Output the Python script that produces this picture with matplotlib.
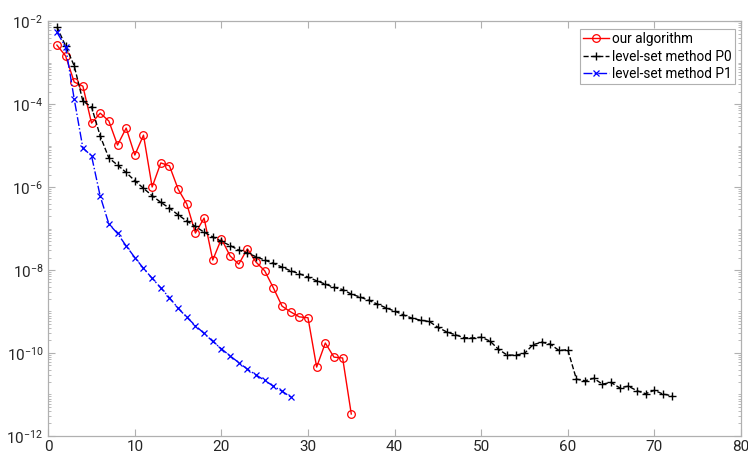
import numpy as np
import matplotlib
matplotlib.use("Agg")
import matplotlib.pyplot as plt
from matplotlib.ticker import LogLocator, FixedLocator, NullFormatter, FuncFormatter

plt.rcParams['font.family'] = ['Roboto', 'DejaVu Sans']
plt.rcParams['mathtext.fontset'] = 'custom'
plt.rcParams['mathtext.rm'] = 'Roboto'
plt.rcParams['mathtext.it'] = 'Roboto:italic'
plt.rcParams['mathtext.default'] = 'regular'

# ---- data (log10 of the error values) ----
ours_log = [-2.58, -2.84, -3.47, -3.57, -4.46, -4.22, -4.41, -4.99, -4.58, -5.23,
            -4.75, -6.00, -5.42, -5.49, -6.05, -6.41, -7.11, -6.75, -7.76, -7.25,
            -7.66, -7.86, -7.49, -7.81, -8.02, -8.43, -8.87, -9.01, -9.13, -9.15,
            -10.34, -9.76, -10.10, -10.12, -11.47]
p0_log = [-2.14, -2.60, -3.08, -3.93, -4.07, -4.77, -5.30, -5.47, -5.65, -5.85,
          -6.03, -6.21, -6.37, -6.51, -6.67, -6.82, -6.95, -7.09, -7.20, -7.31,
          -7.41, -7.52, -7.59, -7.68, -7.76, -7.84, -7.93, -8.02, -8.09, -8.17,
          -8.26, -8.34, -8.42, -8.47, -8.58, -8.65, -8.73, -8.82, -8.91, -8.99,
          -9.08, -9.16, -9.21, -9.24, -9.38, -9.49, -9.56, -9.63, -9.64, -9.62,
          -9.71, -9.91, -10.05, -10.05, -10.01, -9.80, -9.74, -9.79, -9.94, -9.92,
          -10.63, -10.67, -10.61, -10.75, -10.71, -10.84, -10.80, -10.91, -10.98, -10.90,
          -10.99, -11.03]
p1_log = [-2.27, -2.62, -3.88, -5.06, -5.25, -6.22, -6.89, -7.12, -7.42, -7.70,
          -7.96, -8.20, -8.43, -8.67, -8.92, -9.14, -9.34, -9.53, -9.72, -9.90,
          -10.07, -10.23, -10.39, -10.53, -10.66, -10.80, -10.92, -11.06]

ours = 10.0 ** np.array(ours_log)
p0 = 10.0 ** np.array(p0_log)
p1 = 10.0 ** np.array(p1_log)
it_ours = np.arange(1, len(ours) + 1)
it_p0 = np.arange(1, len(p0) + 1)
it_p1 = np.arange(1, len(p1) + 1)

labels = ['our algorithm', 'level-set method P0', 'level-set method P1']
xticks = [0, 10, 20, 30, 40, 50, 60, 70, 80]
ytick_exps = [-12, -10, -8, -6, -4, -2]

fig = plt.figure(figsize=(7.48, 4.55), dpi=100)
ax = fig.add_axes([0.0645, 0.0418, 0.926, 0.912])

ax.plot(it_ours, ours, '-', color='#ff0000', lw=1.0, marker='o', ms=5.5,
        mfc='none', mec='#ff0000', mew=0.9, label=labels[0])
ax.plot(it_p0, p0, '--', color='black', lw=1.0, marker='+', ms=6,
        mew=1.0, label=labels[1])
ax.plot(it_p1, p1, '-.', color='#0000ff', lw=1.0, marker='x', ms=4.5,
        mew=0.9, label=labels[2])

ax.set_yscale('log')
ax.set_xlim(0, 80)
ax.set_ylim(1e-12, 1e-2)
ax.set_xticks(xticks)
ax.yaxis.set_major_locator(FixedLocator([10.0 ** e for e in ytick_exps]))
ax.yaxis.set_major_formatter(FuncFormatter(lambda v, p: r'$10^{%d}$' % int(round(np.log10(v)))))
ax.yaxis.set_minor_locator(LogLocator(base=10, subs=np.arange(1, 10), numticks=100))
ax.yaxis.set_minor_formatter(NullFormatter())

spine_col = '#b0b0b0'
for s in ax.spines.values():
    s.set_color(spine_col)
    s.set_linewidth(0.9)
ax.tick_params(which='both', direction='in', top=True, right=True, color=spine_col,
               labelcolor='#262626', labelsize=11)
ax.tick_params(which='major', length=5)
ax.tick_params(which='minor', length=2.5)
ax.tick_params(axis='x', pad=3)

leg = ax.legend(loc='upper right', bbox_to_anchor=(0.9955, 0.988), fontsize=9.8,
                frameon=True, fancybox=False, edgecolor='#b0b0b0', framealpha=1,
                handlelength=1.9, handletextpad=0.2, borderpad=0.25,
                labelspacing=0.25, borderaxespad=0.2)
leg.get_frame().set_linewidth(0.8)

fig.savefig('out.png', dpi=100)
